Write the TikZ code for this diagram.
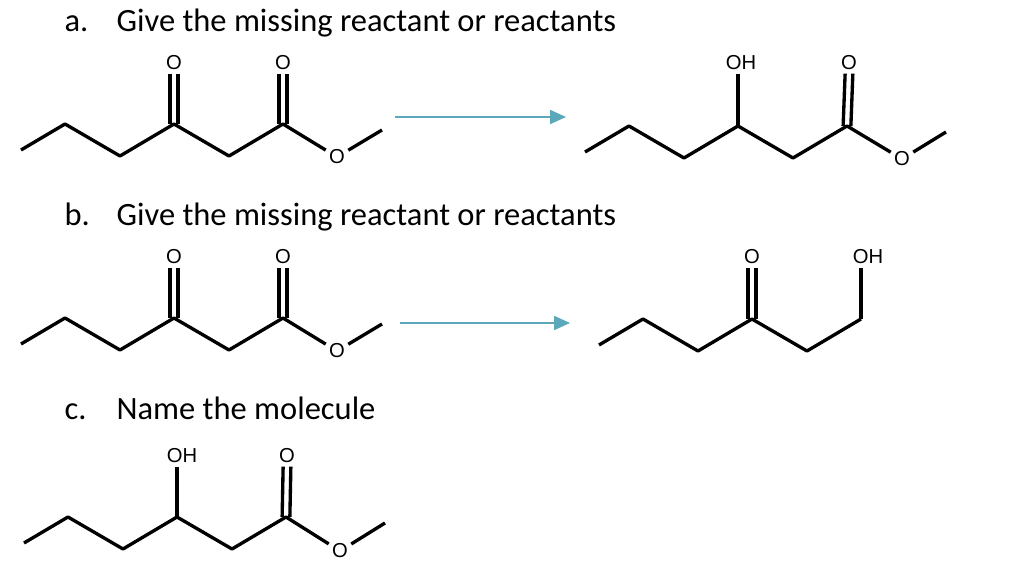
\documentclass[tikz,border=0pt]{standalone}
\usepackage{fontspec}
\setmainfont{Carlito}
\newfontfamily\atomfont{Liberation Sans}
\usetikzlibrary{arrows.meta}

% carbon skeleton: prefix, x and y of the first peak (in px)
\newcommand{\skel}[3]{%
  \coordinate (#1e) at ({#2-44},{#3+26});
  \coordinate (#1p) at (#2,#3);
  \coordinate (#1v) at ({#2+55},{#3+32});
  \coordinate (#1c) at ({#2+109},#3);
  \coordinate (#1w) at ({#2+164},{#3+32});
  \coordinate (#1d) at ({#2+218},#3);
  \coordinate (#1m) at ({#2+317},{#3+6});
}

\begin{document}
\begin{tikzpicture}[x=0.02cm, y=-0.02cm, line width=1.9pt, line join=round,
    atom/.style={font=\atomfont\fontsize{11.5}{12}\selectfont, inner sep=1pt},
    title/.style={font=\fontsize{18.5}{22}\selectfont, anchor=base west, inner sep=0pt},
    >={Triangle[length=9pt, width=8pt]}]
    \useasboundingbox (0,0) rectangle (1022,574);

    % titles
    \node[title] (ta) at (63,32) {a.};
    \node[title] (tga) at (115,32) {Give the missing reactant or reactants};
    \node[title] (tb) at (63,226) {b.};
    \node[title] (tgb) at (115,226) {Give the missing reactant or reactants};
    \node[title] (tc) at (63,419) {c.};
    \node[title] (tgc) at (115,419) {Name the molecule};

    % a: keto ester -> hydroxy ester
    \skel{a}{65}{124}
    \node[atom] (ao1) at (174,63) {O};
    \node[atom] (ao2) at (283,63) {O};
    \node[atom] (aoe) at (337,157) {O};
    \draw (ae) -- (ap) -- (av) -- (ac) -- (aw) -- (ad) -- (aoe) -- (am);
    \draw ([xshift=-2.2pt]ac) -- ([xshift=-2.2pt]ao1.south) ([xshift=2.2pt]ac) -- ([xshift=2.2pt]ao1.south);
    \draw ([xshift=-2.2pt]ad) -- ([xshift=-2.2pt]ao2.south) ([xshift=2.2pt]ad) -- ([xshift=2.2pt]ao2.south);

    \skel{A}{629}{126}
    \node[atom] (Aoh) at (741,63) {OH};
    \node[atom] (Ao2) at (849,63) {O};
    \node[atom] (Aoe) at (902,159) {O};
    \draw (Ae) -- (Ap) -- (Av) -- (Ac) -- (Aw) -- (Ad) -- (Aoe) -- (Am);
    \draw (Ac) -- (Ac |- Aoh.south);
    \draw ([xshift=-2.2pt]Ad) -- ([xshift=-2.2pt]Ao2.south) ([xshift=2.2pt]Ad) -- ([xshift=2.2pt]Ao2.south);

    \node (ra1) at (395,117) {};
    \node (ra2) at (566,117) {};
    \draw[->, line width=0.6pt, color={rgb,255:red,91;green,168;blue,186}] (ra1.center) -- (ra2.center);

    % b: keto ester -> hydroxy ketone
    \skel{b}{65}{318}
    \node[atom] (bo1) at (174,257) {O};
    \node[atom] (bo2) at (283,257) {O};
    \node[atom] (boe) at (337,351) {O};
    \draw (be) -- (bp) -- (bv) -- (bc) -- (bw) -- (bd) -- (boe) -- (bm);
    \draw ([xshift=-2.2pt]bc) -- ([xshift=-2.2pt]bo1.south) ([xshift=2.2pt]bc) -- ([xshift=2.2pt]bo1.south);
    \draw ([xshift=-2.2pt]bd) -- ([xshift=-2.2pt]bo2.south) ([xshift=2.2pt]bd) -- ([xshift=2.2pt]bo2.south);

    \skel{B}{643}{319}
    \node[atom] (Bo1) at (752,257) {O};
    \node[atom] (Boh) at (868,257) {OH};
    \draw (Be) -- (Bp) -- (Bv) -- (Bc) -- (Bw) -- (Bd);
    \draw (Bd) -- (Bd |- Boh.south);
    \draw ([xshift=-2.2pt]Bc) -- ([xshift=-2.2pt]Bo1.south) ([xshift=2.2pt]Bc) -- ([xshift=2.2pt]Bo1.south);

    \node (rb1) at (400,323) {};
    \node (rb2) at (570,323) {};
    \draw[->, line width=0.6pt, color={rgb,255:red,91;green,168;blue,186}] (rb1.center) -- (rb2.center);

    % c: hydroxy ester
    \skel{c}{68}{517}
    \node[atom] (coh) at (182,456) {OH};
    \node[atom] (co2) at (287,456) {O};
    \node[atom] (coe) at (340,551) {O};
    \draw (ce) -- (cp) -- (cv) -- (cc) -- (cw) -- (cd) -- (coe) -- (cm);
    \draw (cc) -- (cc |- coh.south);
    \draw ([xshift=-2.2pt]cd) -- ([xshift=-2.2pt]co2.south) ([xshift=2.2pt]cd) -- ([xshift=2.2pt]co2.south);
\end{tikzpicture}
\end{document}
